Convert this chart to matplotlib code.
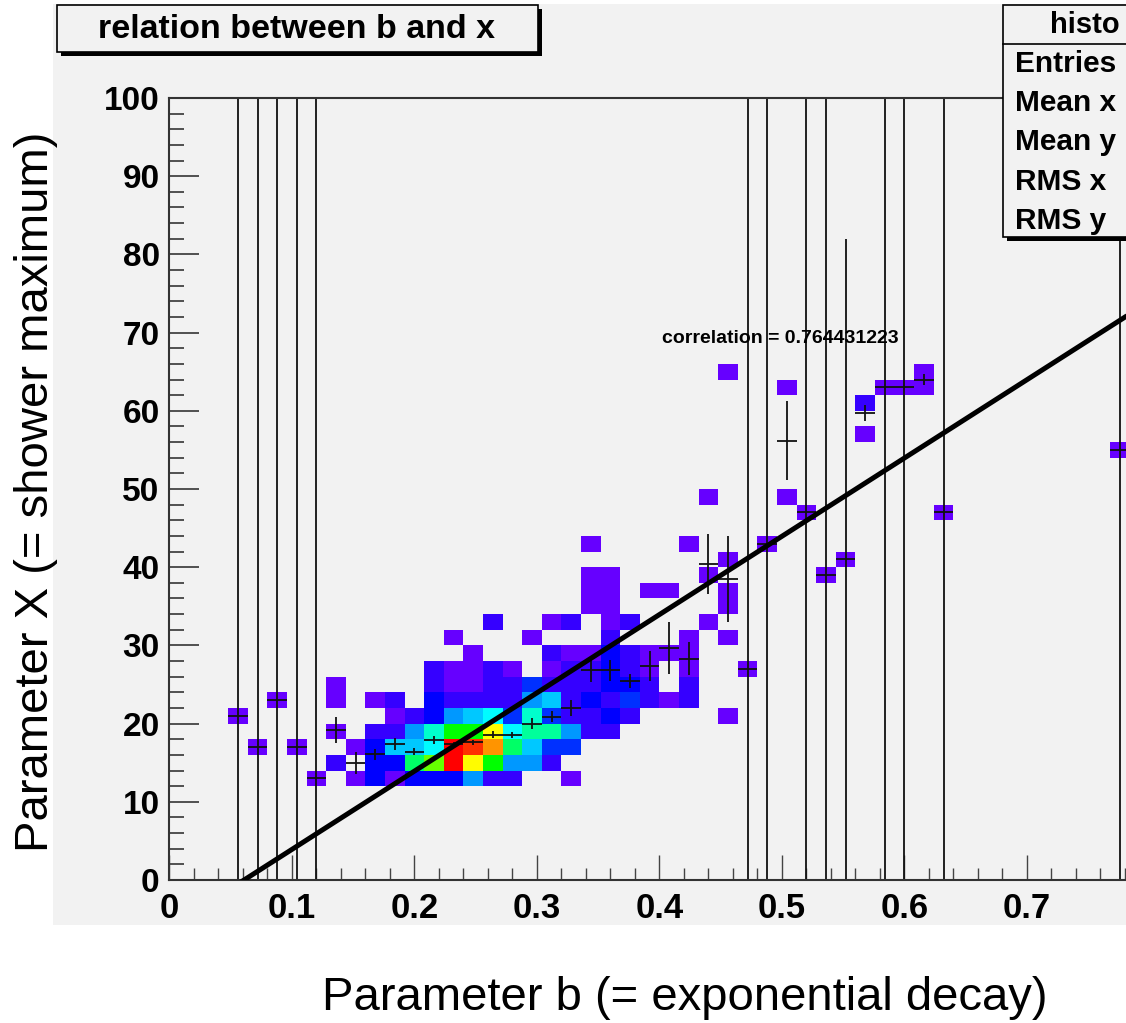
import numpy as np
import matplotlib.pyplot as plt
from matplotlib.colors import LinearSegmentedColormap
from matplotlib.patches import Rectangle

plt.rcParams["font.family"] = ["Liberation Sans", "DejaVu Sans"]

# binning of the 2D histogram (b on x, X on y)
b_edges = np.linspace(0.0, 0.8, 51)
x_edges = np.linspace(0.0, 100.0, 51)

# filled cells, one entry per b bin: bin centre in b, X bin centres, counts
col_b = [0.056, 0.072, 0.088, 0.104, 0.120, 0.136, 0.152, 0.168, 0.184, 0.200,
         0.216, 0.232, 0.248, 0.264, 0.280, 0.296, 0.312, 0.328, 0.344, 0.360,
         0.376, 0.392, 0.408, 0.424, 0.440, 0.456, 0.472, 0.488, 0.504, 0.520,
         0.536, 0.552, 0.568, 0.584, 0.600, 0.616, 0.632, 0.776]
col_x = [[21], [17], [23], [17], [13],
         [25, 23, 19, 15],
         [17, 13],
         [23, 19, 17, 15, 13],
         [23, 21, 19, 17, 15, 13],
         [21, 19, 17, 15, 13],
         [27, 25, 23, 21, 19, 17, 15, 13],
         [31, 27, 25, 23, 21, 19, 17, 15, 13],
         [29, 27, 25, 23, 21, 19, 17, 15, 13],
         [33, 27, 25, 23, 21, 19, 17, 15, 13],
         [27, 25, 23, 21, 19, 17, 15, 13],
         [31, 25, 23, 21, 19, 17, 15],
         [33, 29, 27, 25, 23, 21, 19, 17, 15],
         [33, 29, 27, 25, 23, 21, 19, 17, 13],
         [43, 39, 37, 35, 29, 27, 25, 23, 21, 19],
         [39, 37, 35, 33, 31, 29, 27, 25, 23, 21, 19],
         [33, 29, 27, 25, 23, 21],
         [37, 29, 27, 25, 23],
         [37, 29, 23],
         [43, 31, 29, 27, 25, 23],
         [49, 39, 33],
         [65, 41, 37, 35, 31, 21],
         [27], [43], [63, 49], [47], [39], [41], [61, 57], [63], [63], [65, 63], [47], [55]]
col_n = [[1], [1], [1], [1], [1],
         [1, 1, 1, 2],
         [1, 1],
         [1, 2, 3, 3, 3],
         [2, 1, 2, 7, 3, 1],
         [2, 6, 7, 11, 3],
         [2, 2, 3, 3, 9, 8, 15, 3],
         [1, 1, 1, 2, 6, 13, 23, 23, 3],
         [1, 1, 1, 2, 7, 13, 22, 18, 6],
         [2, 2, 2, 2, 8, 18, 20, 13, 2],
         [1, 2, 2, 4, 8, 11, 6, 2],
         [1, 4, 6, 9, 10, 7, 6],
         [1, 2, 1, 2, 7, 4, 10, 4, 2],
         [2, 1, 2, 2, 2, 2, 6, 4, 1],
         [1, 1, 1, 1, 1, 2, 2, 3, 2, 2],
         [1, 1, 1, 1, 2, 3, 3, 3, 2, 3, 2],
         [2, 2, 2, 3, 4, 2],
         [1, 1, 1, 2, 2],
         [1, 1, 1],
         [1, 1, 1, 1, 2, 2],
         [1, 1, 1],
         [1, 1, 1, 1, 1, 1],
         [1], [1], [1, 1], [1], [1], [1], [2, 1], [1], [1], [1, 1], [1], [1]]

# profile of X in b bins (mean, error on mean); single entries have huge errors
prof_b = [0.056, 0.072, 0.088, 0.104, 0.120, 0.136, 0.152, 0.168, 0.184, 0.200,
          0.216, 0.232, 0.248, 0.264, 0.280, 0.296, 0.312, 0.328, 0.344, 0.360,
          0.376, 0.392, 0.408, 0.424, 0.440, 0.456, 0.472, 0.488, 0.504, 0.520,
          0.536, 0.552, 0.568, 0.584, 0.600, 0.616, 0.632, 0.776]
prof_mean = [21, 17, 23, 17, 13, 19.2, 15.0, 16.1, 17.4, 16.4,
             17.9, 17.4, 17.6, 18.6, 18.5, 20.0, 20.9, 22.0, 26.8, 26.8,
             25.4, 27.4, 29.7, 28.3, 40.4, 38.5, 27, 43, 56.2, 47,
             39, 41, 59.7, 63, 63, 64, 47, 55]
prof_err = [100, 100, 100, 100, 100, 1.7, 1.4, 0.7, 0.75, 0.45,
            0.5, 0.3, 0.3, 0.4, 0.4, 0.7, 0.7, 1.0, 1.45, 1.3,
            0.9, 1.9, 3.35, 2.1, 3.85, 5.5, 100, 100, 5.0, 100,
            100, 41, 1.0, 100, 100, 0.7, 100, 100]

# linear fit X = p0 + p1 * b
fit_p0 = -6.1
fit_p1 = 100.1
correlation = 0.764431223

stat_names = ["Entries", "Mean x", "Mean y", "RMS x", "RMS y"]

W, H = 1126, 1023


def fx(px):
    return px / W


def fy(py):
    return 1 - py / H


root_cmap = LinearSegmentedColormap.from_list(
    "root", [(0.0, "#6600ff"), (0.09, "#0000ff"), (0.32, "#00ffff"),
             (0.545, "#00ff00"), (0.77, "#ffff00"), (1.0, "#ff0000")])

fig = plt.figure(figsize=(W / 100, H / 100), dpi=100)
fig.patch.set_facecolor("white")
# grey canvas
fig.add_artist(Rectangle((fx(53), fy(925)), fx(1126) - fx(53), fy(4) - fy(925),
                         transform=fig.transFigure, facecolor="#f2f2f2", edgecolor="none", zorder=0))

ax = fig.add_axes([fx(169.4), fy(880), 0.8 * 1225 / W, 782 / H])
ax.set_facecolor("#f2f2f2")

hb = np.repeat(col_b, [len(v) for v in col_x])
hx = np.concatenate(col_x)
hn = np.concatenate(col_n)
counts, _, _ = np.histogram2d(hb, hx, bins=[b_edges, x_edges], weights=hn)
counts = np.ma.masked_equal(counts, 0)
ax.pcolormesh(b_edges, x_edges, counts.T, cmap=root_cmap, vmin=1, vmax=23, zorder=1)

half_w = (b_edges[1] - b_edges[0]) / 2
ax.errorbar(prof_b, prof_mean, xerr=half_w, yerr=prof_err, fmt="none",
            ecolor="#111111", elinewidth=1.3, capsize=0, zorder=2)

fit_b = np.array([0.0, 0.8])
ax.plot(fit_b, fit_p0 + fit_p1 * fit_b, color="black", lw=3.6, zorder=3, solid_capstyle="butt")

ax.text(0.402, 68.7, f"correlation = {correlation}", fontsize=14, fontweight="bold",
        va="baseline", ha="left", zorder=4)

ax.set_xlim(0, 0.8)
ax.set_ylim(0, 100)
ax.set_xticks(np.arange(0, 0.8, 0.1))
ax.set_xticklabels(["0", "0.1", "0.2", "0.3", "0.4", "0.5", "0.6", "0.7"])
ax.set_xticks(np.arange(0, 0.8, 0.02), minor=True)
ax.set_yticks(np.arange(0, 101, 10))
ax.set_yticks(np.arange(0, 101, 2), minor=True)
ax.tick_params(axis="y", which="major", direction="in", length=21.6, width=1.3,
               color="#444444", labelsize=24, pad=7)
ax.tick_params(axis="y", which="minor", direction="in", length=10.8, width=1.3, color="#444444")
ax.tick_params(axis="x", which="major", direction="in", length=18, width=1.0,
               color="#444444", labelsize=25, pad=9)
ax.tick_params(axis="x", which="minor", direction="in", length=9, width=1.0, color="#444444")
for lab in ax.get_xticklabels() + ax.get_yticklabels():
    lab.set_fontweight("bold")
for s in ax.spines.values():
    s.set_linewidth(1.5)
    s.set_color("#333333")

# title box with shadow
fig.add_artist(Rectangle((fx(61), fy(56)), fx(542) - fx(61), fy(9) - fy(56),
                         transform=fig.transFigure, facecolor="black", edgecolor="none", zorder=5))
fig.add_artist(Rectangle((fx(57), fy(52)), fx(538) - fx(57), fy(5) - fy(52),
                         transform=fig.transFigure, facecolor="#f2f2f2", edgecolor="black",
                         lw=1.2, zorder=6))
fig.text(fx(297), fy(30), "relation between b and x", fontsize=24.5, fontweight="bold",
         ha="center", va="center", zorder=7)

# stats box with shadow
fig.add_artist(Rectangle((fx(1007), fy(241)), fx(1160) - fx(1007), fy(9) - fy(241),
                         transform=fig.transFigure, facecolor="black", edgecolor="none", zorder=5))
fig.add_artist(Rectangle((fx(1003), fy(237)), fx(1156) - fx(1003), fy(5) - fy(237),
                         transform=fig.transFigure, facecolor="#f2f2f2", edgecolor="black",
                         lw=1.2, zorder=6))
fig.add_artist(plt.Line2D([fx(1003), fx(1156)], [fy(44), fy(44)], transform=fig.transFigure,
                          color="black", lw=1.2, zorder=7))
fig.text(fx(1050), fy(25), "histo", fontsize=21, fontweight="bold", ha="left", va="center", zorder=7)
for k, name in enumerate(stat_names):
    fig.text(fx(1015), fy(64 + 39.2 * k), name, fontsize=21.5, fontweight="bold",
             ha="left", va="center", zorder=7)

fig.text(fx(685), fy(998), "Parameter b (= exponential decay)", fontsize=34,
         ha="center", va="center")
fig.text(fx(36), fy(492), "Parameter X (= shower maximum)", fontsize=34,
         ha="center", va="center", rotation=90)

fig.savefig("out.png", dpi=100)
